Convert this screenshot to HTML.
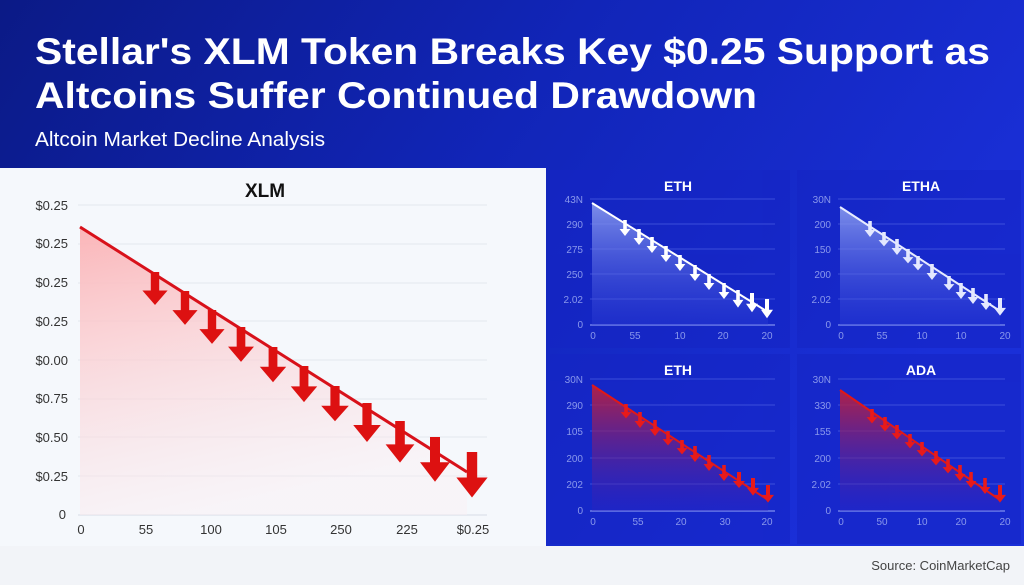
<!DOCTYPE html>
<html><head><meta charset="utf-8"><style>
html,body{margin:0;padding:0;width:1024px;height:585px;overflow:hidden;background:#f2f4f8}
svg{display:block}
text{font-family:"Liberation Sans",sans-serif}
</style></head><body>
<svg width="1024" height="585" viewBox="0 0 1024 585" xmlns="http://www.w3.org/2000/svg">
<defs>
<linearGradient id="bg" x1="0" y1="0" x2="1" y2="0.4">
<stop offset="0" stop-color="#0b1a86"/><stop offset="0.5" stop-color="#1125b8"/><stop offset="1" stop-color="#1a2fd8"/>
</linearGradient>
<linearGradient id="rf" x1="0" y1="0" x2="0.3" y2="1">
<stop offset="0" stop-color="#fbb5b8"/><stop offset="1" stop-color="#fbeef2" stop-opacity="0.4"/>
</linearGradient>
<linearGradient id="wf" x1="0" y1="0" x2="0" y2="1">
<stop offset="0" stop-color="#8fa0f0" stop-opacity="0.85"/><stop offset="1" stop-color="#3040d8" stop-opacity="0.3"/>
</linearGradient>
<linearGradient id="pf" x1="0" y1="0" x2="0" y2="1">
<stop offset="0" stop-color="#c0203a" stop-opacity="0.9"/><stop offset="1" stop-color="#3020c0" stop-opacity="0.3"/>
</linearGradient>
<path id="ar" d="M-4,0 H4 V18 H12 L0,32 L-12,18 H-4 Z"/>
</defs>
<rect width="1024" height="585" fill="url(#bg)"/>
<rect x="0" y="546" width="1024" height="39" fill="#f2f4f8"/>
<text x="35" y="64" fill="#fff" font-size="37" font-weight="bold" textLength="955" lengthAdjust="spacingAndGlyphs">Stellar's XLM Token Breaks Key $0.25 Support as</text>
<text x="35" y="108" fill="#fff" font-size="37" font-weight="bold" textLength="722" lengthAdjust="spacingAndGlyphs">Altcoins Suffer Continued Drawdown</text>
<text x="35" y="146" fill="#fff" font-size="20" textLength="290" lengthAdjust="spacingAndGlyphs">Altcoin Market Decline Analysis</text>
<text x="1010" y="570" fill="#444" font-size="13" text-anchor="end">Source: CoinMarketCap</text>

<!-- XLM panel -->
<rect x="0" y="168" width="546" height="378" fill="#f5f8fc"/>
<text x="265" y="197" font-size="19" font-weight="bold" text-anchor="middle" fill="#111">XLM</text>
<g stroke="#e3e7ee" stroke-width="1">
<line x1="78" x2="487" y1="205" y2="205"/><line x1="78" x2="487" y1="244" y2="244"/><line x1="78" x2="487" y1="283" y2="283"/><line x1="78" x2="487" y1="321" y2="321"/><line x1="78" x2="487" y1="360" y2="360"/><line x1="78" x2="487" y1="399" y2="399"/><line x1="78" x2="487" y1="437" y2="437"/><line x1="78" x2="487" y1="476" y2="476"/><line x1="78" x2="487" y1="515" y2="515" stroke="#d8dde6"/>
</g>
<g font-size="13" fill="#333" text-anchor="end">
<text x="68" y="210">$0.25</text><text x="68" y="248">$0.25</text><text x="68" y="287">$0.25</text><text x="68" y="326">$0.25</text><text x="68" y="365">$0.00</text><text x="68" y="403">$0.75</text><text x="68" y="442">$0.50</text><text x="68" y="481">$0.25</text><text x="66" y="519">0</text>
</g>
<g font-size="13" fill="#333" text-anchor="middle">
<text x="81" y="534">0</text><text x="146" y="534">55</text><text x="211" y="534">100</text><text x="276" y="534">105</text><text x="341" y="534">250</text><text x="407" y="534">225</text><text x="473" y="534">$0.25</text>
</g>
<path d="M80,227 L467,472 L467,515 L80,515 Z" fill="url(#rf)"/>
<path d="M80,227 L467,472" stroke="#d8111a" stroke-width="3" fill="none"/>
<g fill="#dd1111">
<use href="#ar" transform="translate(155,272) scale(1.05,1.03)"/>
<use href="#ar" transform="translate(185,291) scale(1.05,1.06)"/>
<use href="#ar" transform="translate(212,310) scale(1.05,1.06)"/>
<use href="#ar" transform="translate(241,327) scale(1.08,1.09)"/>
<use href="#ar" transform="translate(273,347) scale(1.1,1.1)"/>
<use href="#ar" transform="translate(304,366) scale(1.1,1.13)"/>
<use href="#ar" transform="translate(335,386) scale(1.15,1.1)"/>
<use href="#ar" transform="translate(367,403) scale(1.15,1.22)"/>
<use href="#ar" transform="translate(400,421) scale(1.2,1.3)"/>
<use href="#ar" transform="translate(435,437) scale(1.25,1.4)"/>
<use href="#ar" transform="translate(472,452) scale(1.3,1.42)"/>
</g>

<!-- small panels -->
<g fill="#1524c4" opacity="0.55">
<rect x="550" y="170" width="240" height="178"/><rect x="797" y="170" width="224" height="178"/>
<rect x="550" y="354" width="240" height="190"/><rect x="797" y="354" width="224" height="190"/>
</g>
<g font-size="14" font-weight="bold" fill="#fff" text-anchor="middle">
<text x="678" y="191">ETH</text><text x="921" y="191">ETHA</text><text x="678" y="375">ETH</text><text x="921" y="375">ADA</text>
</g>
<g stroke="#4a5ce0" stroke-width="0.7">
<line x1="590" x2="775" y1="199" y2="199"/><line x1="590" x2="775" y1="224" y2="224"/><line x1="590" x2="775" y1="249" y2="249"/><line x1="590" x2="775" y1="274" y2="274"/><line x1="590" x2="775" y1="299" y2="299"/>
<line x1="838" x2="1005" y1="199" y2="199"/><line x1="838" x2="1005" y1="224" y2="224"/><line x1="838" x2="1005" y1="249" y2="249"/><line x1="838" x2="1005" y1="274" y2="274"/><line x1="838" x2="1005" y1="299" y2="299"/>
<line x1="590" x2="775" y1="379" y2="379"/><line x1="590" x2="775" y1="405" y2="405"/><line x1="590" x2="775" y1="431" y2="431"/><line x1="590" x2="775" y1="458" y2="458"/><line x1="590" x2="775" y1="484" y2="484"/>
<line x1="838" x2="1005" y1="379" y2="379"/><line x1="838" x2="1005" y1="405" y2="405"/><line x1="838" x2="1005" y1="431" y2="431"/><line x1="838" x2="1005" y1="458" y2="458"/><line x1="838" x2="1005" y1="484" y2="484"/>
</g>
<g stroke="#8090f0" stroke-width="1.2">
<line x1="590" x2="775" y1="325" y2="325"/><line x1="838" x2="1005" y1="325" y2="325"/>
<line x1="590" x2="775" y1="511" y2="511"/><line x1="838" x2="1005" y1="511" y2="511"/>
</g>
<g font-size="10" fill="#8a98ec" text-anchor="end">
<text x="583" y="203">43N</text><text x="583" y="228">290</text><text x="583" y="253">275</text><text x="583" y="278">250</text><text x="583" y="303">2.02</text><text x="583" y="328">0</text>
<text x="831" y="203">30N</text><text x="831" y="228">200</text><text x="831" y="253">150</text><text x="831" y="278">200</text><text x="831" y="303">2.02</text><text x="831" y="328">0</text>
<text x="583" y="383">30N</text><text x="583" y="409">290</text><text x="583" y="435">105</text><text x="583" y="462">200</text><text x="583" y="488">202</text><text x="583" y="514">0</text>
<text x="831" y="383">30N</text><text x="831" y="409">330</text><text x="831" y="435">155</text><text x="831" y="462">200</text><text x="831" y="488">2.02</text><text x="831" y="514">0</text>
</g>
<g font-size="10" fill="#8a98ec" text-anchor="middle">
<text x="593" y="339">0</text><text x="635" y="339">55</text><text x="680" y="339">10</text><text x="723" y="339">20</text><text x="767" y="339">20</text>
<text x="841" y="339">0</text><text x="882" y="339">55</text><text x="922" y="339">10</text><text x="961" y="339">10</text><text x="1005" y="339">20</text>
<text x="593" y="525">0</text><text x="638" y="525">55</text><text x="681" y="525">20</text><text x="725" y="525">30</text><text x="767" y="525">20</text>
<text x="841" y="525">0</text><text x="882" y="525">50</text><text x="922" y="525">10</text><text x="961" y="525">20</text><text x="1005" y="525">20</text>
</g>
<path d="M592,203 L768,312 L768,325 L592,325Z" fill="url(#wf)"/>
<path d="M840,207 L1000,311 L1000,325 L840,325Z" fill="url(#wf)"/>
<path d="M592,385 L768,500 L768,511 L592,511Z" fill="url(#pf)"/>
<path d="M840,390 L1000,500 L1000,511 L840,511Z" fill="url(#pf)"/>
<g stroke-width="2" fill="none">
<path d="M592,203 L768,312" stroke="#fff"/><path d="M840,207 L1000,311" stroke="#e8ecff"/>
<path d="M592,385 L768,500" stroke="#e01818"/><path d="M840,390 L1000,500" stroke="#e01818"/>
</g>
<g fill="#fff">
<use href="#ar" transform="translate(625,220) scale(0.45,0.5)"/><use href="#ar" transform="translate(639,229) scale(0.45,0.5)"/><use href="#ar" transform="translate(652,237) scale(0.45,0.5)"/><use href="#ar" transform="translate(666,246) scale(0.45,0.5)"/><use href="#ar" transform="translate(680,255) scale(0.45,0.5)"/><use href="#ar" transform="translate(695,265) scale(0.45,0.5)"/><use href="#ar" transform="translate(709,274) scale(0.45,0.5)"/><use href="#ar" transform="translate(724,283) scale(0.45,0.5)"/><use href="#ar" transform="translate(738,290) scale(0.45,0.55)"/><use href="#ar" transform="translate(752,293) scale(0.5,0.6)"/><use href="#ar" transform="translate(767,299) scale(0.5,0.6)"/>
</g>
<g fill="#e4e8ff">
<use href="#ar" transform="translate(870,221) scale(0.45,0.5)"/><use href="#ar" transform="translate(884,232) scale(0.45,0.45)"/><use href="#ar" transform="translate(897,239) scale(0.45,0.5)"/><use href="#ar" transform="translate(908,249) scale(0.45,0.45)"/><use href="#ar" transform="translate(918,256) scale(0.45,0.45)"/><use href="#ar" transform="translate(932,264) scale(0.45,0.5)"/><use href="#ar" transform="translate(949,276) scale(0.45,0.45)"/><use href="#ar" transform="translate(961,283) scale(0.45,0.5)"/><use href="#ar" transform="translate(973,288) scale(0.45,0.5)"/><use href="#ar" transform="translate(986,294) scale(0.45,0.5)"/><use href="#ar" transform="translate(1000,298) scale(0.5,0.55)"/>
</g>
<g fill="#e81a1a">
<use href="#ar" transform="translate(626,404) scale(0.45,0.45)"/><use href="#ar" transform="translate(640,412) scale(0.45,0.5)"/><use href="#ar" transform="translate(655,420) scale(0.45,0.5)"/><use href="#ar" transform="translate(668,431) scale(0.45,0.45)"/><use href="#ar" transform="translate(682,440) scale(0.45,0.45)"/><use href="#ar" transform="translate(695,446) scale(0.45,0.5)"/><use href="#ar" transform="translate(709,455) scale(0.45,0.5)"/><use href="#ar" transform="translate(724,465) scale(0.45,0.5)"/><use href="#ar" transform="translate(739,472) scale(0.5,0.5)"/><use href="#ar" transform="translate(753,478) scale(0.5,0.55)"/><use href="#ar" transform="translate(768,485) scale(0.5,0.55)"/>
</g>
<g fill="#e81a1a">
<use href="#ar" transform="translate(872,409) scale(0.45,0.45)"/><use href="#ar" transform="translate(885,417) scale(0.45,0.45)"/><use href="#ar" transform="translate(897,425) scale(0.45,0.45)"/><use href="#ar" transform="translate(910,434) scale(0.45,0.45)"/><use href="#ar" transform="translate(922,442) scale(0.45,0.45)"/><use href="#ar" transform="translate(936,451) scale(0.45,0.45)"/><use href="#ar" transform="translate(948,459) scale(0.45,0.45)"/><use href="#ar" transform="translate(960,465) scale(0.45,0.5)"/><use href="#ar" transform="translate(971,472) scale(0.45,0.5)"/><use href="#ar" transform="translate(985,478) scale(0.45,0.5)"/><use href="#ar" transform="translate(1000,485) scale(0.5,0.55)"/>
</g>
</svg>
</body></html>
